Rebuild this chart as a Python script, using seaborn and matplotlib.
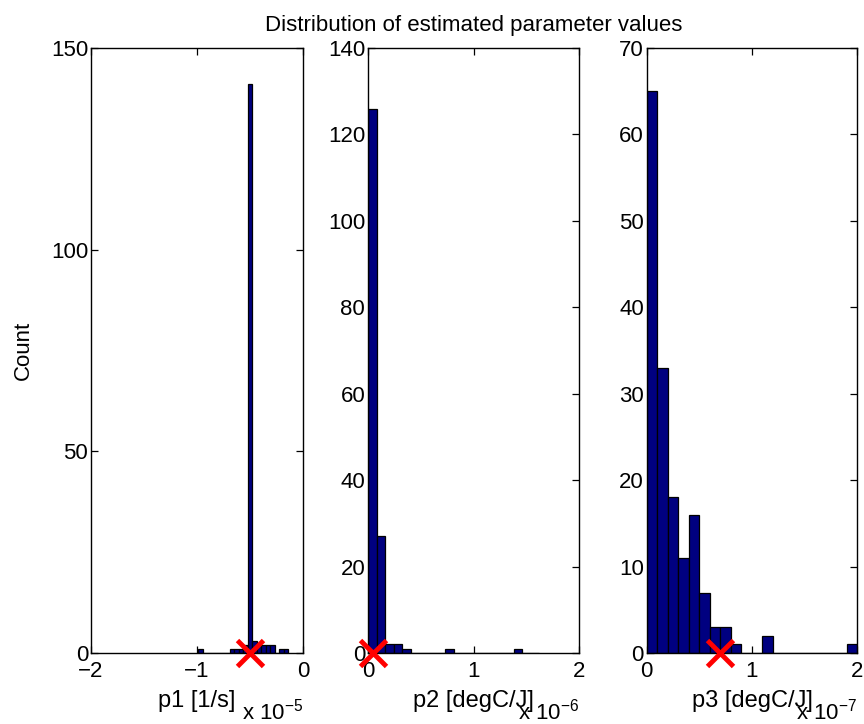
import numpy as np
import pandas as pd
import seaborn as sns
import matplotlib
matplotlib.use("Agg")
import matplotlib.pyplot as plt

# ---------------- data (x values in units of the axis multiplier) ----------------
p1_exp = -5
p1_bin_start = -0.99
p1_bin_width = 0.0426
p1_bin_index = [0, 7, 8, 9, 10, 11, 12, 13, 14, 15, 16, 18, 19]
p1_counts = [1, 1, 1, 1, 2, 141, 3, 2, 2, 2, 2, 1, 1]
p1_true = -0.5

p2_exp = -6
p2_bin_start = 0.003
p2_bin_width = 0.081
p2_bin_index = [0, 1, 2, 3, 4, 9, 17]
p2_counts = [126, 27, 2, 2, 1, 1, 1]
p2_true = 0.052

p3_exp = -7
p3_bin_start = 0.0
p3_bin_width = 0.1
p3_bin_index = [0, 1, 2, 3, 4, 5, 6, 7, 8, 11, 19]
p3_counts = [65, 33, 18, 11, 16, 7, 3, 3, 1, 2, 1]
p3_true = 0.7

x_labels = ["p1 [1/s]", "p2 [degC/J]", "p3 [degC/J]"]
x_limits = [(-2, 0), (0, 2), (0, 2)]
x_ticks = [[-2, -1, 0], [0, 1, 2], [0, 1, 2]]
y_limits = [(0, 150), (0, 140), (0, 70)]
y_ticks = [[0, 50, 100, 150], list(range(0, 141, 20)), list(range(0, 71, 10))]
title = "Distribution of estimated parameter values"
y_label = "Count"

# ---------------- style ----------------
sns.set_style("white")
fam = "Liberation Sans"
plt.rcParams["font.family"] = [fam, "DejaVu Sans"]
plt.rcParams["mathtext.fontset"] = "custom"
plt.rcParams["mathtext.rm"] = fam
plt.rcParams["mathtext.it"] = fam
plt.rcParams["mathtext.bf"] = fam
plt.rcParams["mathtext.sf"] = fam
plt.rcParams["text.color"] = "black"
plt.rcParams["axes.labelcolor"] = "black"
plt.rcParams["xtick.color"] = "black"
plt.rcParams["ytick.color"] = "black"

bar_color = "#000080"
fs = 16
fs_label = 17

fig = plt.figure(figsize=(8.64, 7.24), dpi=100)
positions = [
    [91 / 864, 1 - 653 / 724, 212 / 864, 605 / 724],
    [368 / 864, 1 - 653 / 724, 211 / 864, 605 / 724],
    [646.7 / 864, 1 - 653 / 724, 210.5 / 864, 605 / 724],
]

panels = [
    (p1_bin_start, p1_bin_width, p1_bin_index, p1_counts, p1_true, p1_exp),
    (p2_bin_start, p2_bin_width, p2_bin_index, p2_counts, p2_true, p2_exp),
    (p3_bin_start, p3_bin_width, p3_bin_index, p3_counts, p3_true, p3_exp),
]

axes = []
for i, (start, width, idx, counts, true_val, exp) in enumerate(panels):
    ax = fig.add_axes(positions[i])
    axes.append(ax)
    nbins = 20
    edges = [float(start + width * k) for k in range(nbins + 1)]
    centers = [float(start + width * (k + 0.5)) for k in idx]
    df = pd.DataFrame({"x": centers, "w": [float(c) for c in counts]})
    sns.histplot(data=df, x="x", weights="w", bins=edges, ax=ax,
                 color=bar_color, edgecolor="black", linewidth=0.9,
                 alpha=1.0, legend=False)
    ax.plot([true_val], [0], marker="x", color="#ff0000", markersize=19,
            markeredgewidth=3.5, linestyle="none", clip_on=False, zorder=10)
    ax.set_xlim(*x_limits[i])
    ax.set_ylim(*y_limits[i])
    ax.set_xticks(x_ticks[i])
    ax.set_yticks(y_ticks[i])
    ax.set_xlabel("")
    ax.set_ylabel("")
    for sp in ax.spines.values():
        sp.set_visible(True)
        sp.set_color("black")
        sp.set_linewidth(1.0)
    ax.tick_params(direction="in", length=5, width=0.9, top=True, right=True,
                   bottom=True, left=True, labelsize=fs, colors="black")
    ax.tick_params(axis="y", pad=2)
    ax.tick_params(axis="x", pad=6)
    tr = matplotlib.transforms.blended_transform_factory(ax.transAxes, fig.transFigure)
    ax.text(0.5, 1 - 701 / 724, x_labels[i], fontsize=fs_label, ha="center",
            va="center", transform=tr)
    ax.text(1.0, 1 - 712 / 724, r"x 10$^{%d}$" % exp, fontsize=fs, ha="right",
            va="center", transform=tr)

axes[0].set_ylabel(y_label, fontsize=fs, labelpad=12)
axes[1].set_title(title, fontsize=16, pad=12, color="black")

fig.savefig("out.png", dpi=100, facecolor="white")
